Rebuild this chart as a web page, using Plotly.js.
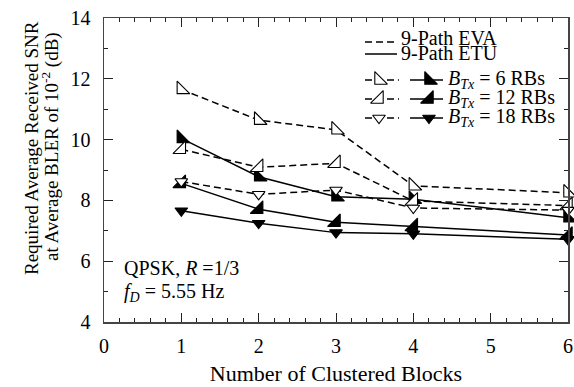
<!DOCTYPE html>
<html>
<head>
<meta charset="utf-8">
<script src="https://cdn.plot.ly/plotly-3.0.1.min.js"></script>
<style>html,body{margin:0;padding:0;background:#fff;}#chart{width:574px;height:387px;}</style>
</head>
<body>
<div id="chart"></div>
<script>
// ---- data ----
const blocks = [1, 2, 3, 4, 6];
const evaRB6  = [11.65, 10.64, 10.32, 8.48, 8.25];
const evaRB12 = [9.68, 9.09, 9.22, 7.98, 7.83];
const evaRB18 = [8.62, 8.20, 8.34, 7.75, 7.68];
const etuRB6  = [10.04, 8.78, 8.12, 8.04, 7.43];
const etuRB12 = [8.56, 7.71, 7.28, 7.14, 6.86];
const etuRB18 = [7.66, 7.25, 6.94, 6.90, 6.72];
const rbLabels = ['6', '12', '18'];
const xTickVals = [0, 1, 2, 3, 4, 5, 6];
const yTickVals = [4, 6, 8, 10, 12, 14];

const FONT = 'Liberation Serif';
const DASH = '7px,4px';
const symbols = ['triangle-sw', 'triangle-se', 'triangle-down'];
const symSize = [14, 14, 11];

function series(y, i, filled, dashed) {
  return {
    x: blocks, y: y, type: 'scatter', mode: 'lines+markers',
    line: {color: '#000', width: 1.5, dash: dashed ? DASH : 'solid'},
    marker: {symbol: symbols[i], size: symSize[i], color: filled ? '#000' : '#fff',
             line: {color: '#000', width: 1.1}},
    showlegend: false, hoverinfo: 'skip', cliponaxis: false
  };
}

const traces = [
  series(etuRB6, 0, true, false),
  series(etuRB12, 1, true, false),
  series(etuRB18, 2, true, false),
  series(evaRB6, 0, false, true),
  series(evaRB12, 1, false, true),
  series(evaRB18, 2, false, true)
];

// ---- hand-built legend key (overlay axes spanning the plot area) ----
const L = 104, R = 568, T = 18, B = 322;
const px = v => (v - L) / (R - L);
const py = v => (B - v) / (B - T);
function keyLine(x0, x1, y, dashed, i, filled, mx) {
  traces.push({
    x: [px(x0), px(x1)], y: [py(y), py(y)], xaxis: 'x2', yaxis: 'y2',
    type: 'scatter', mode: 'lines', showlegend: false, hoverinfo: 'skip',
    line: {color: '#000', width: 1.5, dash: dashed ? DASH : 'solid'}
  });
  if (i !== undefined) {
    traces.push({
      x: [px(mx)], y: [py(y)], xaxis: 'x2', yaxis: 'y2',
      type: 'scatter', mode: 'markers', showlegend: false, hoverinfo: 'skip',
      marker: {symbol: symbols[i], size: symSize[i], color: filled ? '#000' : '#fff',
               line: {color: '#000', width: 1.1}}
    });
  }
}
function ann(text, x, y, size, extra) {
  return Object.assign({
    text: text, x: x, y: y, xref: 'paper', yref: 'paper',
    xanchor: 'left', yanchor: 'middle', showarrow: false,
    font: {family: FONT, size: size, color: '#000'}
  }, extra || {});
}
keyLine(365, 398, 42, true);
keyLine(365, 397, 54, false);
const rowY = [80, 99, 118];
const annotations = [
  ann('9-Path EVA', px(399), py(38), 20),
  ann('9-Path ETU', px(399), py(53), 20)
];
rowY.forEach((y, i) => {
  keyLine(365, 399, y, true, i, false, 379);
  keyLine(410, 443, y, false, i, true, 429);
  annotations.push(ann('<i>B</i><sub><i>Tx</i></sub> = ' + rbLabels[i] + ' RBs',
                       px(446), py(y - 1), 20));
});
annotations.push(ann('QPSK, <i>R</i> =1/3', px(122), py(268), 20));
annotations.push(ann('<i>f<sub>D</sub></i> = 5.55 Hz', px(122), py(292), 20));
// y-axis title (two lines, drawn as rotated text)
annotations.push(ann('Required Average Received SNR', px(31), py(148), 19,
                     {xanchor: 'center', textangle: -90}));
annotations.push(ann('at Average BLER of 10<sup>-2</sup> (dB)', px(50), py(147), 19,
                     {xanchor: 'center', textangle: -90}));

const axisCommon = {
  showgrid: false, zeroline: false, showline: true, linecolor: '#444', linewidth: 1.5,
  mirror: 'allticks', ticks: 'inside', ticklen: 9, tickwidth: 1, tickcolor: '#222',
  tickfont: {family: FONT, size: 20, color: '#000'}, fixedrange: true
};

const layout = {
  width: 574, height: 387,
  margin: {l: 104, r: 6, t: 18, b: 65},
  paper_bgcolor: '#fff', plot_bgcolor: '#fff',
  showlegend: false,
  font: {family: FONT, color: '#000'},
  xaxis: Object.assign({}, axisCommon, {
    range: [0, 6], tickvals: xTickVals, ticktext: xTickVals.map(String),
    ticklabelstandoff: 5,
    minor: {dtick: 0.2, ticks: 'inside', ticklen: 4, tickcolor: '#222', showgrid: false},
    title: {text: 'Number of Clustered Blocks', font: {family: FONT, size: 22}, standoff: 10}
  }),
  yaxis: Object.assign({}, axisCommon, {
    range: [4, 14], tickvals: yTickVals, ticktext: yTickVals.map(String),
    ticklabelstandoff: 8,
    minor: {dtick: 1, ticks: 'inside', ticklen: 4, tickcolor: '#222', showgrid: false}
  }),
  xaxis2: {overlaying: 'x', range: [0, 1], visible: false, fixedrange: true},
  yaxis2: {overlaying: 'y', range: [0, 1], visible: false, fixedrange: true},
  annotations: annotations
};

Plotly.newPlot('chart', traces, layout, {staticPlot: true, displayModeBar: false});
</script>
</body>
</html>
